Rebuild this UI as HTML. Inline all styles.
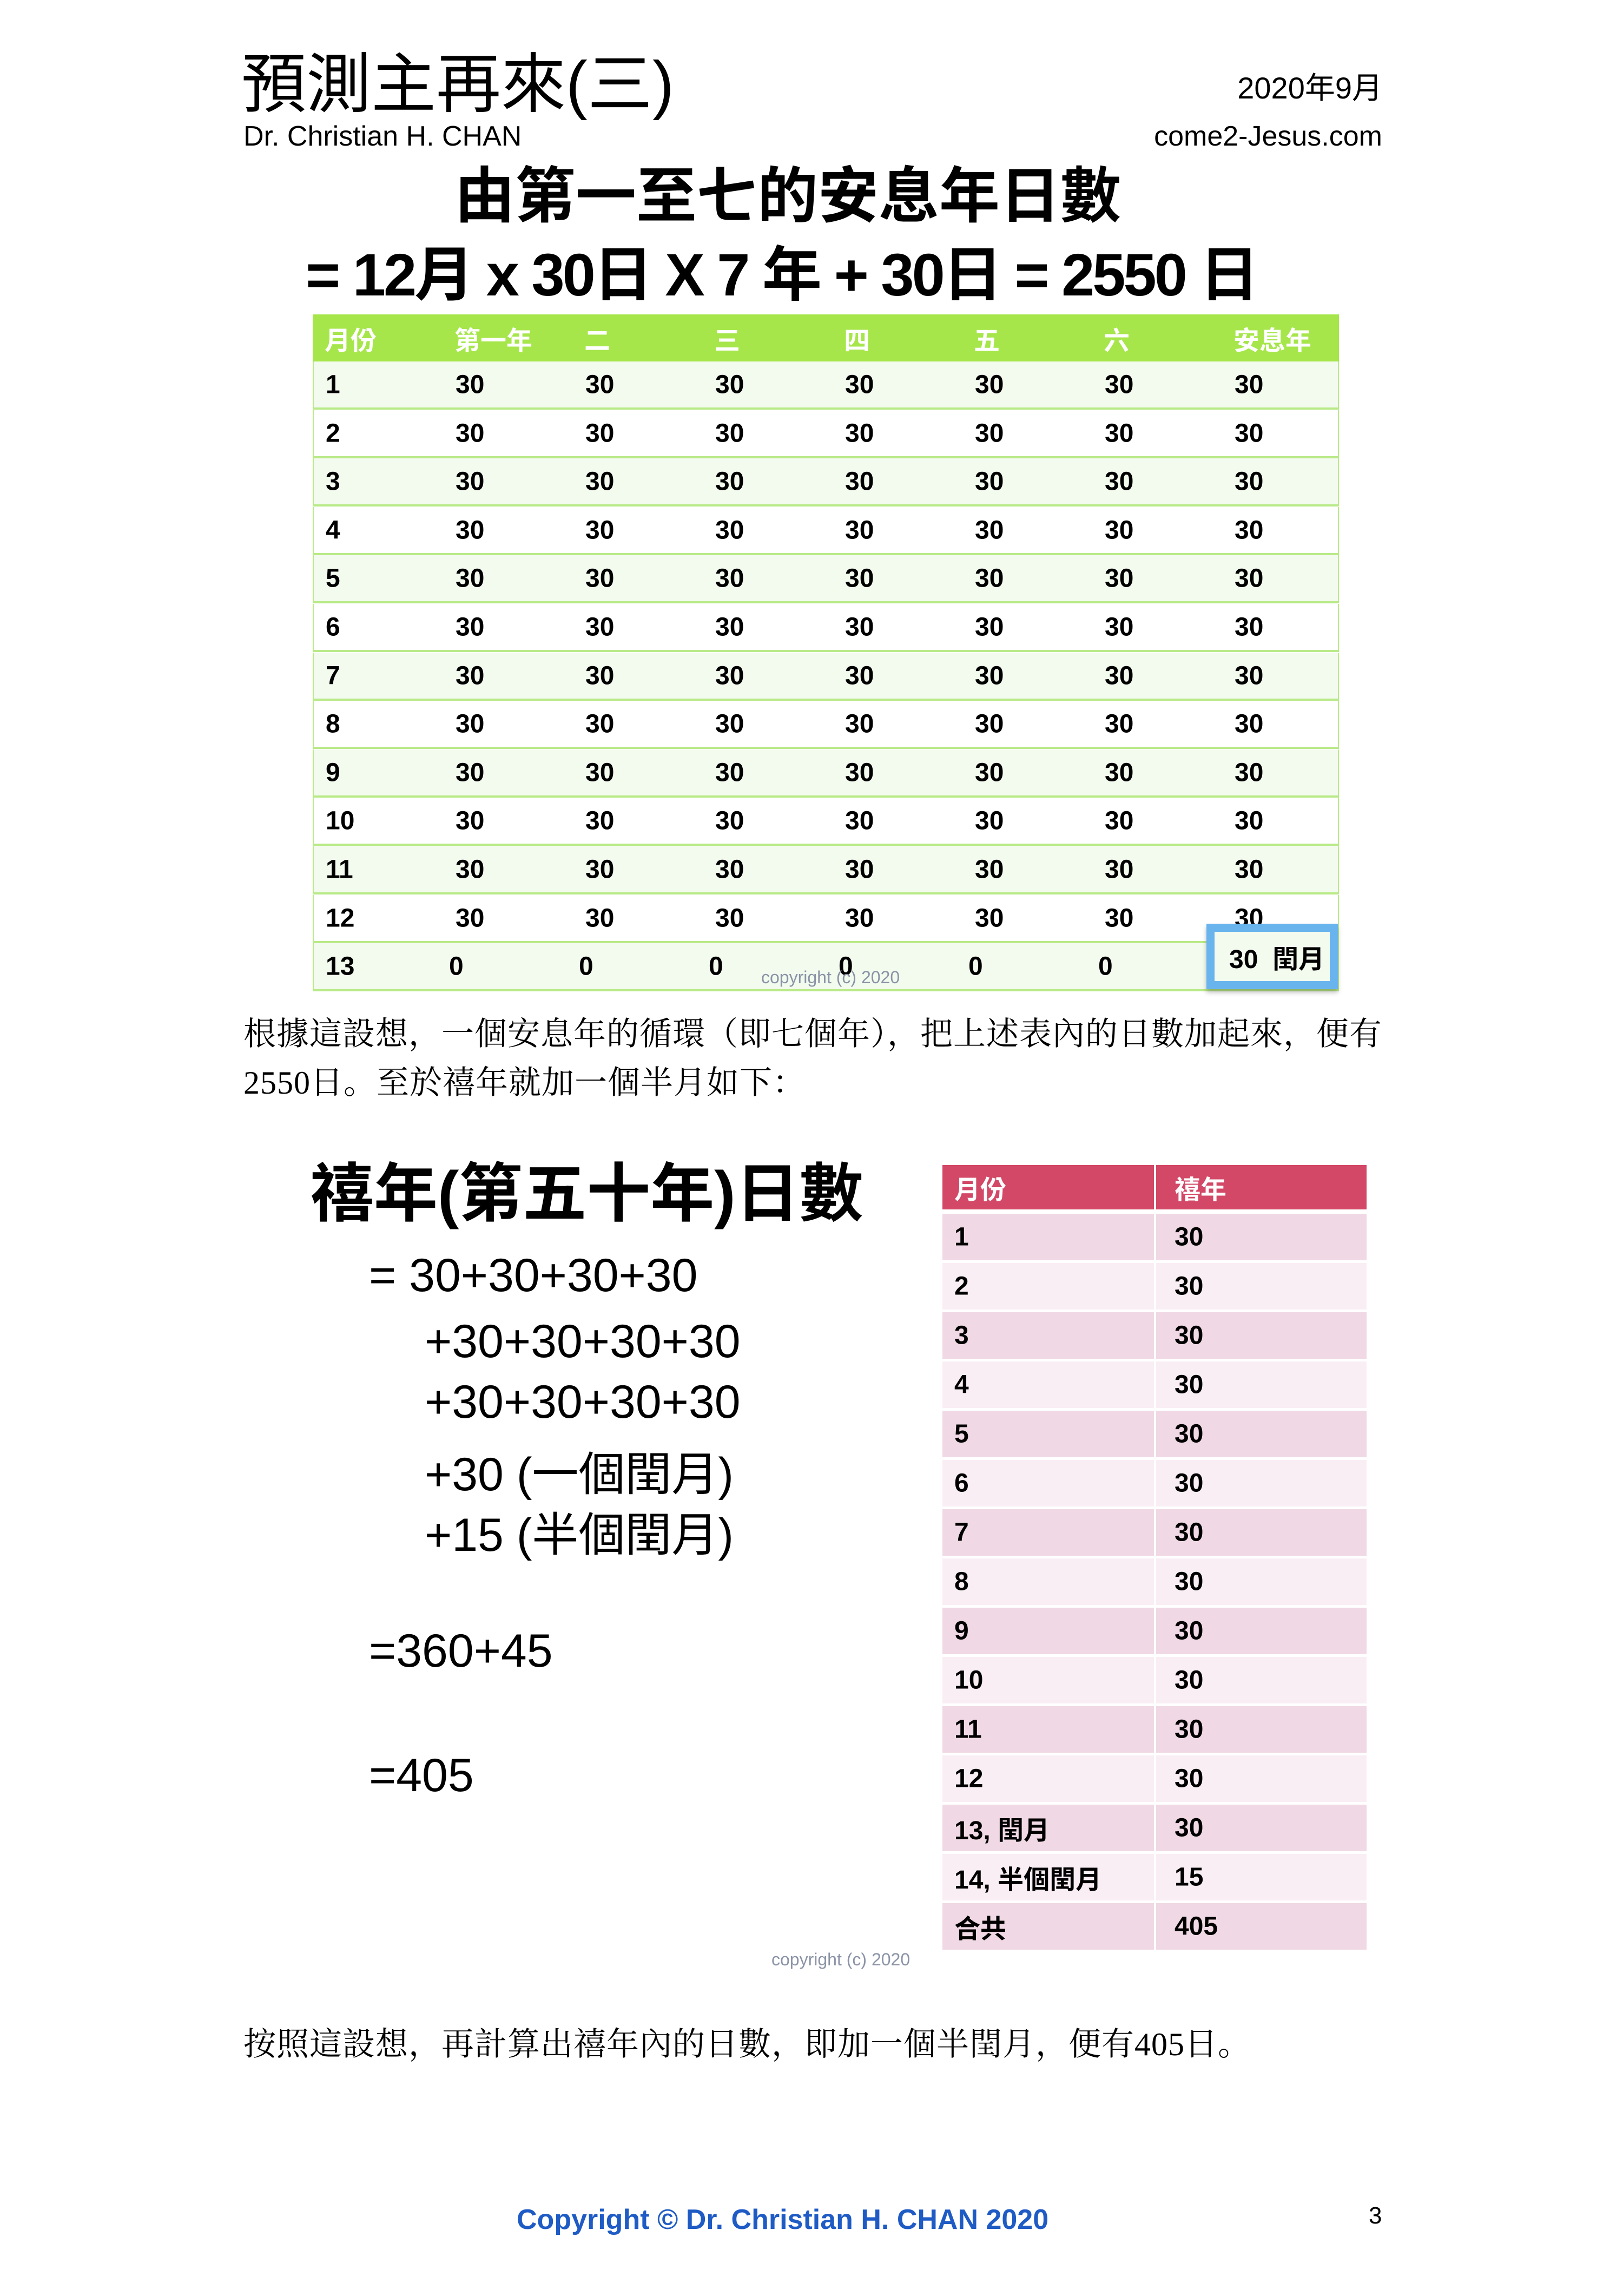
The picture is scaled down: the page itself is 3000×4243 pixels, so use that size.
<!DOCTYPE html>
<html><head><meta charset="utf-8"><style>
body{margin:0;width:3000px;height:4243px;background:#fff;position:relative;overflow:hidden;font-family:"Liberation Sans","Noto Sans CJK TC",sans-serif;color:#000}
.a{position:absolute;white-space:nowrap}
.b{font-weight:bold}
.g{position:absolute;left:578px;width:1897px;height:90px}
.g span,.r span{position:absolute;top:50%;transform:translateY(-50%);font-size:48px;font-weight:bold}
.r{position:absolute;left:1742px;width:784px;height:84px}
.serif{font-family:"Liberation Serif","Noto Serif CJK SC",serif}
</style></head><body>
<div class="a" style="left:446px;top:58px;font-size:120px;">預測主再來(三)</div>
<div class="a" style="right:445px;top:118px;font-size:56px;">2020年9月</div>
<div class="a" style="left:450px;top:222px;font-size:52px;">Dr. Christian H. CHAN</div>
<div class="a" style="right:445px;top:222px;font-size:52px;">come2-Jesus.com</div>
<div class="a b" style="left:840px;top:272px;font-size:112px;">由第一至七的安息年日數</div>
<div class="a b" style="left:565px;top:418px;font-size:110px;letter-spacing:-4px">= 12月 x 30日 X 7 年 + 30日 = 2550 日</div>

<div style="position:absolute;left:578px;top:581px;width:1897px;height:87px;background:#a6e64a"></div>
<div id="gt"></div>
<div class="a" style="left:2230px;top:1707px;width:213px;height:91px;border:15px solid #6ab4ee;background:#f3faee;box-shadow:0 6px 8px rgba(0,0,0,.25)"></div>
<div class="a b" style="left:2272px;font-size:48px;transform:translateY(-50%);top:1768px">30&nbsp; 閏月</div>
<div class="a" style="left:1407px;top:1788px;font-size:32px;color:#8a93a6">copyright (c) 2020</div>

<div class="a serif" style="left:450px;top:1863px;font-size:60px;letter-spacing:1px">根據這設想，一個安息年的循環（即七個年），把上述表內的日數加起來，便有</div>
<div class="a serif" style="left:450px;top:1953px;font-size:60px;letter-spacing:1px">2550日。至於禧年就加一個半月如下：</div>

<div class="a b" style="left:573px;top:2110px;font-size:118px;">禧年(第五十年)日數</div>
<div class="a" style="left:682px;top:2308px;font-size:86px;">= 30+30+30+30</div>
<div class="a" style="left:785px;top:2430px;font-size:86px;">+30+30+30+30</div>
<div class="a" style="left:785px;top:2542px;font-size:86px;">+30+30+30+30</div>
<div class="a" style="left:785px;top:2654px;font-size:86px;">+30 (一個閏月)</div>
<div class="a" style="left:785px;top:2766px;font-size:86px;">+15 (半個閏月)</div>
<div class="a" style="left:682px;top:3002px;font-size:86px;">=360+45</div>
<div class="a" style="left:682px;top:3232px;font-size:86px;">=405</div>

<div style="position:absolute;left:1742px;top:2153px;width:784px;height:82px;background:#d24866"></div>
<div id="rt"></div>
<div style="position:absolute;left:2133px;top:2153px;width:4px;height:1455px;background:#fff"></div>
<div class="a" style="left:1426px;top:3603px;font-size:32px;color:#8a93a6">copyright (c) 2020</div>

<div class="a serif" style="left:450px;top:3730px;font-size:60px;letter-spacing:1px">按照這設想，再計算出禧年內的日數，即加一個半閏月，便有405日。</div>
<div class="a b" style="left:955px;top:4072px;font-size:52px;color:#1f5bc4">Copyright © Dr. Christian H. CHAN 2020</div>
<div class="a" style="left:2530px;top:4070px;font-size:44px;">3</div>

<script>
(function(){
var h='';
var hd=['月份','第一年','二','三','四','五','六','安息年'];
var xs=[22,262,502,742,982,1222,1462,1702];
h+='<div class="g" style="top:581px;height:87px">';
for(var i=0;i<8;i++)h+='<span style="left:'+xs[i]+'px;color:#fff">'+hd[i]+'</span>';
h+='</div>';
for(var r=1;r<=13;r++){
 var ty=Math.round(668+(r-1)*89.6);
 h+='<div class="g" style="top:'+ty+'px;height:89px;background:'+(r%2?'#f3faee':'#fff')+';border-bottom:4px solid #b9ea88;box-sizing:border-box;border-left:2px solid #b9ea88;border-right:2px solid #b9ea88">';
 h+='<span style="left:22px">'+r+'</span>';
 for(var c=1;c<8;c++){ if(r==13&&c==7)break; h+='<span style="left:'+(xs[c]-(r==13?12:0))+'px">'+(r==13?'0':'30')+'</span>';}
 h+='</div>';
}
document.getElementById('gt').outerHTML=h;
var k='';
var lab=['1','2','3','4','5','6','7','8','9','10','11','12','13, 閏月','14, 半個閏月','合共'];
var val=['30','30','30','30','30','30','30','30','30','30','30','30','30','15','405'];
k+='<div class="r" style="top:2153px;height:82px"><span style="left:22px;color:#fff">月份</span><span style="left:429px;color:#fff">禧年</span></div>';
for(var j=0;j<15;j++){
 var ry=2243+j*91;
 k+='<div class="r" style="top:'+ry+'px;height:86px;background:'+(j%2?'#f9eef4':'#f0d9e4')+'"><span style="left:22px">'+lab[j]+'</span><span style="left:429px">'+val[j]+'</span></div>';
}
document.getElementById('rt').outerHTML=k;
})();
</script>
</body></html>
